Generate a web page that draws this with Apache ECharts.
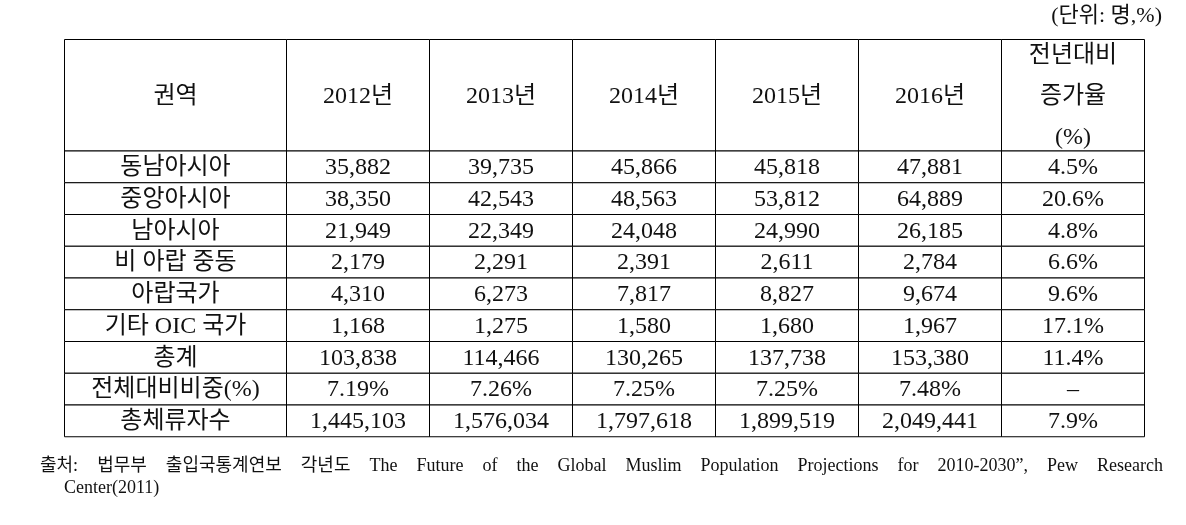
<!DOCTYPE html>
<html>
<head>
<meta charset="utf-8">
<script src="https://cdn.jsdelivr.net/npm/echarts@6/dist/echarts.min.js"></script>
<style>html,body{margin:0;padding:0;background:#fff}#c{width:1186px;height:525px}</style>
</head>
<body>
<div id="c"></div>
<script>
// ---- data ----
const headerRegion = '권역';
const years = ['2012년', '2013년', '2014년', '2015년', '2016년'];
const headerGrowth = '전년대비\n증가율\n(%)';
const regions = ['동남아시아', '중앙아시아', '남아시아', '비 아랍 중동', '아랍국가', '기타 OIC 국가', '총계', '전체대비비중(%)', '총체류자수'];
const counts2012 = [35882, 38350, 21949, 2179, 4310, 1168, 103838];
const counts2013 = [39735, 42543, 22349, 2291, 6273, 1275, 114466];
const counts2014 = [45866, 48563, 24048, 2391, 7817, 1580, 130265];
const counts2015 = [45818, 53812, 24990, 2611, 8827, 1680, 137738];
const counts2016 = [47881, 64889, 26185, 2784, 9674, 1967, 153380];
const sharePct = [7.19, 7.26, 7.25, 7.25, 7.48];
const totalResidents = [1445103, 1576034, 1797618, 1899519, 2049441];
const growthPct = [4.5, 20.6, 4.8, 6.6, 9.6, 17.1, 11.4, null, 7.9];
const unitText = '(단위: 명,%)';
const sourceLine1 = '출처: 법무부 출입국통계연보 각년도 The Future of the Global Muslim Population Projections for 2010-2030”, Pew Research';
const sourceLine2 = 'Center(2011)';

// ---- layout (not data) ----
const colEdges = [0, 222, 365, 508, 651, 794, 937, 1080];
const headerH = 111.5, rowH = 31.75;
const rowEdges = [0, headerH];
for (let i = 0; i < regions.length; i++) rowEdges.push(headerH + rowH * (i + 1));
const FONT = "'Liberation Serif', 'Noto Sans CJK KR', serif";

// ---- build cells ----
const fmt = v => v.toLocaleString('en-US');
const yearCols = [counts2012, counts2013, counts2014, counts2015, counts2016];
const cells = [];
cells.push([0, 0, headerRegion]);
years.forEach((y, i) => cells.push([i + 1, 0, y]));
cells.push([6, 0, headerGrowth]);
regions.forEach((name, r) => {
  const row = r + 1;
  cells.push([0, row, name]);
  for (let c = 0; c < 5; c++) {
    let t;
    if (r < 7) t = fmt(yearCols[c][r]);
    else if (r === 7) t = sharePct[c].toFixed(2) + '%';
    else t = fmt(totalResidents[c]);
    cells.push([c + 1, row, t]);
  }
  cells.push([6, row, growthPct[r] == null ? '–' : growthPct[r].toFixed(1) + '%']);
});

const chart = echarts.init(document.getElementById('c'), null, {renderer: 'canvas'});

// justified footnote line
const mctx = document.createElement('canvas').getContext('2d');
const footFont = "18px " + FONT;
mctx.font = footFont;
const words = sourceLine1.split(' ');
const lineX0 = 40, lineX1 = 1163;
const widths = words.map(w => mctx.measureText(w).width);
const gap = (lineX1 - lineX0 - widths.reduce((a, b) => a + b, 0)) / (words.length - 1);
const footGraphics = [];
let cx = lineX0;
words.forEach((w, i) => {
  footGraphics.push({type: 'text', left: cx, top: 457, style: {text: w, font: footFont, fill: '#111'}});
  cx += widths[i] + gap;
});
footGraphics.push({type: 'text', left: 64, top: 479, style: {text: sourceLine2, font: footFont, fill: '#111'}});
footGraphics.push({type: 'text', right: 24, top: 5, style: {text: unitText, font: "22px " + FONT, fill: '#111'}});

chart.setOption({
  animation: false,
  backgroundColor: '#fff',
  grid: {left: 64.5, top: 39.5, width: 1080, height: rowEdges[rowEdges.length - 1]},
  xAxis: {type: 'value', min: 0, max: 1080, show: false},
  yAxis: {type: 'value', min: 0, max: rowEdges[rowEdges.length - 1], inverse: true, show: false},
  graphic: footGraphics,
  series: [{
    type: 'custom',
    silent: true,
    clip: false,
    data: cells,
    encode: {x: -1, y: -1},
    renderItem: function (params, api) {
      const c = api.value(0), r = api.value(1);
      const text = cells[params.dataIndex][2];
      const p0 = api.coord([colEdges[c], rowEdges[r]]);
      const p1 = api.coord([colEdges[c + 1], rowEdges[r + 1]]);
      return {
        type: 'group',
        children: [
          {type: 'rect', shape: {x: p0[0], y: p0[1], width: p1[0] - p0[0], height: p1[1] - p0[1]},
           style: {fill: '#fff', stroke: '#000', lineWidth: 1}},
          {type: 'text', style: {text: text, x: (p0[0] + p1[0]) / 2, y: (p0[1] + p1[1]) / 2 + 1,
            align: 'center', verticalAlign: 'middle', font: "24px " + FONT, lineHeight: 41, fill: '#111'}}
        ]
      };
    }
  }]
});
</script>
</body>
</html>
